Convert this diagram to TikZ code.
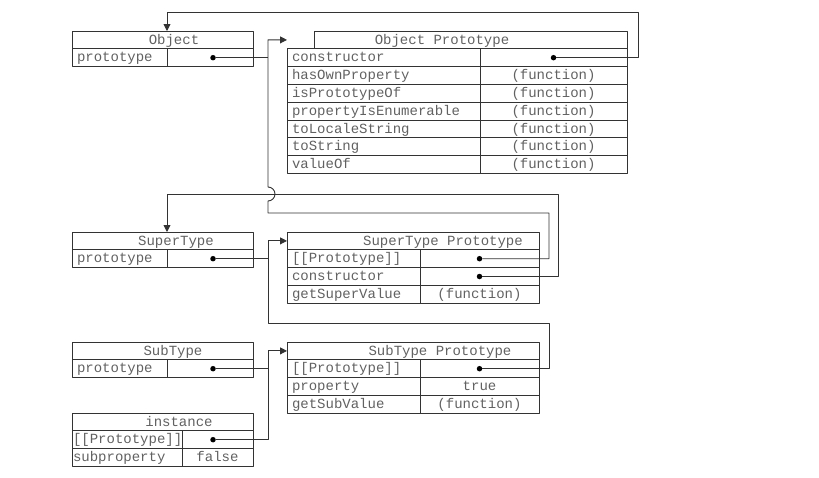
\documentclass[tikz,border=0pt]{standalone}
\usepackage{fontspec}
\setmonofont{Liberation Mono}
\usetikzlibrary{arrows.meta}
\definecolor{ln}{gray}{0.2}
\definecolor{tx}{gray}{0.38}
\newcommand\celltt{\ttfamily\fontsize{14}{16}\selectfont}
\tikzset{
  cell/.style={draw=ln, line width=.9pt, text=tx, font=\celltt, anchor=north west,
    inner xsep=5pt, inner ysep=0pt, outer sep=0pt, minimum height=17.8pt,
    text height=11pt, text depth=2.5pt},
  hcell/.style={cell, minimum width=#1},
  kcell/.style={cell, text width=#1, align=left},
  vcell/.style={cell, minimum width=#1},
  ttl/.style={text=tx, font=\celltt, inner sep=0pt, text height=11pt, text depth=2.5pt},
  dot/.style={circle, fill=black, inner sep=0pt, minimum size=5.5pt},
  conn/.style={draw=ln, line width=.9pt},
}
\begin{document}
\begin{tikzpicture}[x=1pt, y=-1pt, >={Triangle[length=7pt,width=7pt]}, line join=round]
  \useasboundingbox (0,0) rectangle (819,477);
  % Object
  \node[hcell=181] (objh) at (72,31) {};
  \node[ttl] (objt) at ([xshift=11.5]objh.center) {Object};
  \node[kcell=85] (objk) at (objh.south west) {prototype};
  \node[vcell=86] (objv) at (objk.north east) {};
  \node[dot] (objd) at ([xshift=3]objv.center) {};
  % Object Prototype
  \node[hcell=313] (oph) at (314,31) {};
  \node[ttl] (opt) at ([xshift=-28.5]oph.center) {Object Prototype};
  \foreach \k/\v [count=\i] in {constructor/{}, hasOwnProperty/(function), isPrototypeOf/(function),
      propertyIsEnumerable/(function), toLocaleString/(function), toString/(function), valueOf/(function)}{
    \node[kcell=183] (opk\i) at (287,{31+17.8*\i}) {\k};
    \node[vcell=147] (opv\i) at (opk\i.north east) {\v};
  }
  \node[dot] (opd) at (opv1.center) {};
  % SuperType
  \node[hcell=181] (sth) at (72,232) {};
  \node[ttl] (stt) at ([xshift=13.5]sth.center) {SuperType};
  \node[kcell=85] (stk) at (sth.south west) {prototype};
  \node[vcell=86] (stv) at (stk.north east) {};
  \node[dot] (std) at ([xshift=3]stv.center) {};
  % SuperType Prototype
  \node[hcell=252] (sph) at (287,232) {};
  \node[ttl] (spt) at ([xshift=30]sph.center) {SuperType Prototype};
  \foreach \k/\v [count=\i] in {{[[Prototype]]}/{}, constructor/{}, getSuperValue/(function)}{
    \node[kcell=123] (spk\i) at (287,{232+17.8*\i}) {\k};
    \node[vcell=119] (spv\i) at (spk\i.north east) {\v};
  }
  \node[dot] (spd1) at (spv1.center) {};
  \node[dot] (spd2) at (spv2.center) {};
  % SubType
  \node[hcell=181] (sbh) at (72,342) {};
  \node[ttl] (sbt) at ([xshift=10.5]sbh.center) {SubType};
  \node[kcell=85] (sbk) at (sbh.south west) {prototype};
  \node[vcell=86] (sbv) at (sbk.north east) {};
  \node[dot] (sbd) at ([xshift=3]sbv.center) {};
  % SubType Prototype
  \node[hcell=252] (bph) at (287,342) {};
  \node[ttl] (bpt) at ([xshift=27]bph.center) {SubType Prototype};
  \foreach \k/\v [count=\i] in {{[[Prototype]]}/{}, property/true, getSubValue/(function)}{
    \node[kcell=123] (bpk\i) at (287,{342+17.8*\i}) {\k};
    \node[vcell=119] (bpv\i) at (bpk\i.north east) {\v};
  }
  \node[dot] (bpd) at (bpv1.center) {};
  % instance
  \node[hcell=181] (inh) at (72,413) {};
  \node[ttl] (ist) at ([xshift=16.5]inh.center) {instance};
  \node[kcell=108, inner xsep=1pt] (ink1) at (inh.south west) {[[Prototype]]};
  \node[vcell=71] (inv1) at (ink1.north east) {};
  \node[kcell=108, inner xsep=1pt] (ink2) at (ink1.south west) {subproperty};
  \node[vcell=71] (inv2) at (ink2.north east) {false};
  \node[dot] (ind) at ([xshift=-4.5]inv1.center) {};
  % where the arrows come in, and the bends
  \coordinate (objin) at (objk.east |- objh.north);
  \coordinate (stin) at (stk.east |- sth.north);
  \coordinate (opin) at (opk1.west |- oph.west);
  \coordinate (spin) at (spk1.west |- sph.west);
  \coordinate (bpin) at (bpk1.west |- bph.west);
  \coordinate (sp) at ([xshift=15]objv.east);
  \coordinate (lv1) at ([yshift=19]objh.north);
  \coordinate (lv2) at ([yshift=38]sth.north);
  \coordinate (lv3) at ([yshift=19]sth.north);
  \coordinate (lv4) at ([yshift=19]sbh.north);
  % pointers
  \draw[conn,->] (opd) -- ([xshift=11]opv1.east) |- (lv1 -| objin) -- (objin);
  \draw[conn,->] (spd2) -- ([xshift=19]spv2.east) |- (lv2 -| stin) -- (stin);
  \draw[conn,->] (spd1) -- ([xshift=10]spv1.east) |- (lv3 -| sp) -- ++(0,-12)
    arc[start angle=-90, end angle=90, radius=7pt] -- (sp |- opin) -- (opin);
  \draw[conn,->] (bpd) -- ([xshift=10]bpv1.east) |- (lv4 -| sp) -- (sp |- spin) -- (spin);
  \draw[conn,->] (ind) -| (sp |- bpin) -- (bpin);
  \draw[conn] (objd) -- (objd -| sp);
  \draw[conn] (std) -- (std -| sp);
  \draw[conn] (sbd) -- (sbd -| sp);
\end{tikzpicture}
\end{document}
